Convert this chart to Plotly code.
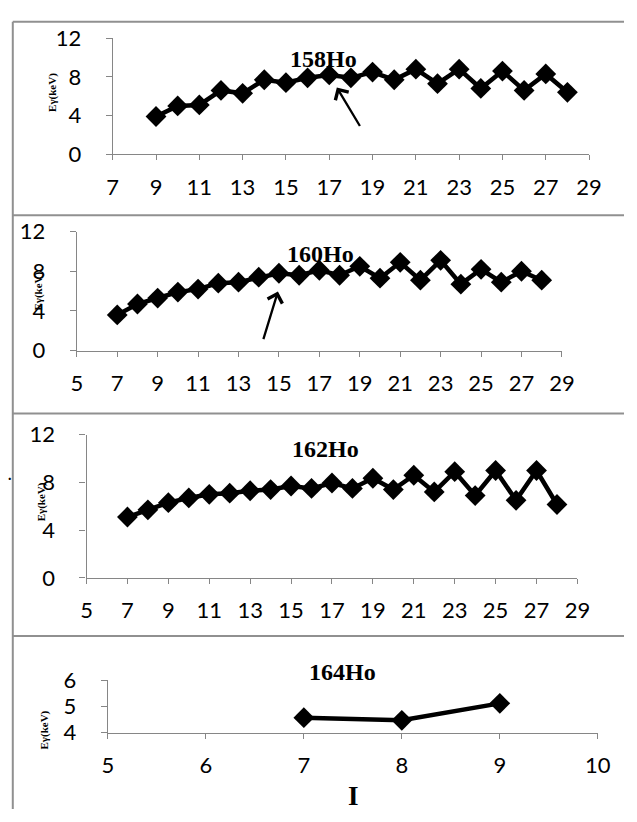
import plotly.graph_objects as go

W, H = 637, 822

# ---------------- data ----------------
I_158 = list(range(9, 29))
E_158 = [3.9, 5.0, 5.1, 6.6, 6.3, 7.7, 7.4, 7.9, 8.2, 7.9, 8.5, 7.7, 8.8, 7.3, 8.8, 6.8, 8.6, 6.6, 8.3, 6.4]

I_160 = list(range(7, 29))
E_160 = [3.6, 4.7, 5.3, 5.9, 6.2, 6.8, 6.9, 7.4, 7.8, 7.6, 8.1, 7.6, 8.5, 7.3, 8.9, 7.1, 9.1, 6.7, 8.2, 6.9, 8.0, 7.1]

I_162 = list(range(7, 29))
E_162 = [5.1, 5.7, 6.3, 6.7, 7.0, 7.1, 7.3, 7.4, 7.7, 7.5, 7.95, 7.5, 8.35, 7.4, 8.6, 7.2, 8.9, 6.9, 9.0, 6.5, 9.0, 6.15]

I_164 = [7, 8, 9]
E_164 = [4.57, 4.47, 5.12]

labels = ["158Ho", "160Ho", "162Ho", "164Ho"]
y_title = "E\u03b3(keV)"
x_title = "I"

# ---------------- layout helpers (pixel -> paper) ----------------
def px(x):
    return x / W

def py(y):
    return 1 - y / H

# panels: (x_left_px, x_right_px, y_top_px, y_bottom_px, xrange, yrange, xdtick, ydtick)
panels = [
    (110, 601, 25, 145, [7, 29], [0, 12], 2, 4),
    (73, 573, 225, 348, [5, 29], [0, 12], 2, 4),
    (83, 589, 435, 583, [5, 29], [0, 12], 2, 4),
    (105, 610, 689, 743, [5, 10], [4, 6], 1, 1),
]
series = [(I_158, E_158), (I_160, E_160), (I_162, E_162), (I_164, E_164)]

fig = go.Figure()
tick_font = dict(family="Lato, Open Sans, sans-serif", size=22, color="#000")
axis_col = "#868686"

for i, (p, (xs, ys)) in enumerate(zip(panels, series)):
    n = "" if i == 0 else str(i + 1)
    xl, xr, yt, yb, xrg, yrg, xd, yd = p
    fig.add_trace(go.Scatter(
        x=xs, y=ys, mode="lines+markers",
        xaxis="x" + n, yaxis="y" + n,
        line=dict(color="#000", width=4.5),
        marker=dict(symbol="diamond", size=16, color="#000"),
        showlegend=False, cliponaxis=False,
    ))
    fig.layout["xaxis" + n] = dict(
        domain=[px(xl), px(xr)], range=xrg, anchor="y" + n,
        tick0=xrg[0], dtick=xd, showgrid=False, zeroline=False,
        showline=True, linecolor=axis_col, linewidth=1.3,
        ticks="outside", ticklen=5, tickcolor=axis_col, tickwidth=1.3,
        tickfont=tick_font, ticklabelstandoff=8,
    )
    fig.layout["yaxis" + n] = dict(
        domain=[py(yb), py(yt)], range=yrg, anchor="x" + n,
        tick0=yrg[0], dtick=yd, showgrid=False, zeroline=False,
        showline=True, linecolor=axis_col, linewidth=1.3,
        ticks="outside", ticklen=6, tickcolor=axis_col, tickwidth=1.3,
        tickfont=tick_font, ticklabelstandoff=20,
    )

# ---------------- panel titles ----------------
title_pos = [(327, 47), (324, 248), (329, 450), (347, 680)]
for lab, (tx, ty) in zip(labels, title_pos):
    fig.add_annotation(x=px(tx), y=py(ty), xref="paper", yref="paper",
                       text="<b>%s</b>" % lab, showarrow=False,
                       font=dict(family="Liberation Serif, Times New Roman, serif", size=24, color="#000"),
                       xanchor="center", yanchor="middle")

# y axis titles
ytitle_pos = [(48, 81), (34, 286), (37, 504), (40, 740)]
for (tx, ty) in ytitle_pos:
    fig.add_annotation(x=px(tx), y=py(ty), xref="paper", yref="paper",
                       text="<b>%s</b>" % y_title, showarrow=False, textangle=-90,
                       font=dict(family="Liberation Serif, Times New Roman, serif", size=11, color="#000"),
                       xanchor="center", yanchor="middle")

# x axis title
fig.add_annotation(x=px(358), y=py(809), xref="paper", yref="paper",
                   text="<b>%s</b>" % x_title, showarrow=False,
                   font=dict(family="Liberation Serif, Times New Roman, serif", size=27, color="#000"),
                   xanchor="center", yanchor="middle")

# stray dot in panel 3
fig.add_annotation(x=px(4), y=py(487), xref="paper", yref="paper",
                   text="<b>.</b>", showarrow=False,
                   font=dict(family="Liberation Serif, serif", size=14, color="#000"),
                   xanchor="center", yanchor="bottom")

# ---------------- arrows ----------------
fig.add_annotation(x=17.35, y=6.9, xref="x", yref="y", ax=24, ay=40,
                   showarrow=True, arrowhead=4, arrowsize=1.3, arrowwidth=2.3,
                   arrowcolor="#000", text="")
fig.add_annotation(x=14.95, y=5.95, xref="x2", yref="y2", ax=-15, ay=49,
                   showarrow=True, arrowhead=4, arrowsize=1.3, arrowwidth=2.3,
                   arrowcolor="#000", text="")

# ---------------- panel borders ----------------
border = dict(color="#909090", width=2)
fig.add_shape(type="line", xref="paper", yref="paper",
              x0=px(7), x1=px(7), y0=py(8), y1=py(822), line=border)
for yy in [8, 208, 413, 643]:
    fig.add_shape(type="line", xref="paper", yref="paper",
                  x0=px(7), x1=1, y0=py(yy), y1=py(yy), line=border)

fig.update_layout(
    width=W, height=H, margin=dict(l=0, r=0, t=0, b=0),
    paper_bgcolor="#fff", plot_bgcolor="#fff",
    showlegend=False,
)

fig.write_html("out.html", config={"displayModeBar": False},
               post_script="document.body.style.margin='0px';")
